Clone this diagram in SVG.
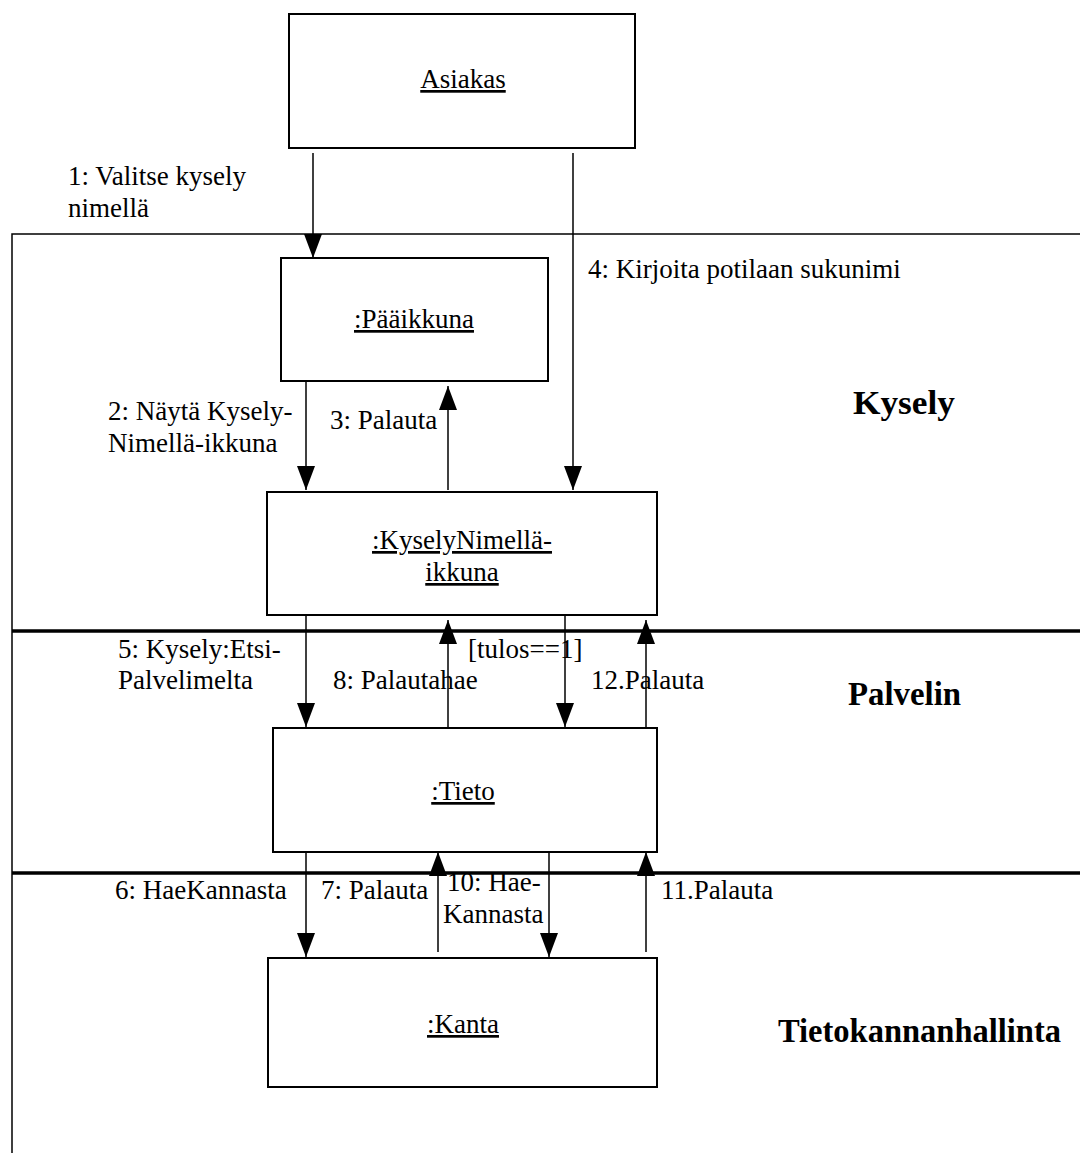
<svg xmlns="http://www.w3.org/2000/svg" width="1080" height="1153" viewBox="0 0 1080 1153">
  <defs>
    <marker id="head" markerUnits="userSpaceOnUse" markerWidth="24" markerHeight="18" refX="24" refY="9" orient="auto">
      <path d="M0,0 L24,9 L0,18 z" fill="#000"/>
    </marker>
    <style>
      text { font-family: "Liberation Serif", "Times New Roman", serif; fill: #000; }
      .lbl { font-size: 27px; }
      .name { font-size: 27px; text-anchor: middle; text-decoration: underline; }
      .lane { font-size: 33px; font-weight: bold; }
      .box { fill: #fff; stroke: #000; stroke-width: 2; }
      .msg { stroke: #000; stroke-width: 1.5; fill: none; marker-end: url(#head); }
      .frame { stroke: #000; stroke-width: 1.5; fill: none; }
      .divider { stroke: #000; stroke-width: 3.5; fill: none; }
    </style>
  </defs>
  <rect width="1080" height="1153" fill="#fff"/>

  <!-- swimlane frame and dividers -->
  <g id="lanes">
    <path class="frame" d="M12,1153 L12,234 L1080,234"/>
    <line class="divider" x1="12" y1="631" x2="1080" y2="631"/>
    <line class="divider" x1="12" y1="873" x2="1080" y2="873"/>
    <text class="lane" x="853" y="414" textLength="102" lengthAdjust="spacingAndGlyphs">Kysely</text>
    <text class="lane" x="848" y="705" textLength="113" lengthAdjust="spacingAndGlyphs">Palvelin</text>
    <text class="lane" x="778" y="1042" textLength="283" lengthAdjust="spacingAndGlyphs">Tietokannanhallinta</text>
  </g>

  <!-- message connectors -->
  <g id="connectors">
    <line class="msg" x1="313" y1="153" x2="313" y2="258"/>
    <line class="msg" x1="573" y1="153" x2="573" y2="490"/>
    <line class="msg" x1="306" y1="381" x2="306" y2="490"/>
    <line class="msg" x1="448" y1="490" x2="448" y2="386"/>
    <line class="msg" x1="306" y1="615" x2="306" y2="727"/>
    <line class="msg" x1="448" y1="727" x2="448" y2="620"/>
    <line class="msg" x1="565" y1="615" x2="565" y2="727"/>
    <line class="msg" x1="646" y1="727" x2="646" y2="620"/>
    <line class="msg" x1="306" y1="852" x2="306" y2="957"/>
    <line class="msg" x1="438" y1="952" x2="438" y2="852"/>
    <line class="msg" x1="549" y1="852" x2="549" y2="957"/>
    <line class="msg" x1="646" y1="952" x2="646" y2="852"/>

    <text class="lbl" x="68" y="185">1: Valitse kysely</text>
    <text class="lbl" x="68" y="217">nimellä</text>
    <text class="lbl" x="588" y="278">4: Kirjoita potilaan sukunimi</text>
    <text class="lbl" x="108" y="420">2: Näytä Kysely-</text>
    <text class="lbl" x="108" y="452">Nimellä-ikkuna</text>
    <text class="lbl" x="330" y="429">3: Palauta</text>
    <text class="lbl" x="118" y="658">5: Kysely:Etsi-</text>
    <text class="lbl" x="118" y="689">Palvelimelta</text>
    <text class="lbl" x="468" y="658">[tulos==1]</text>
    <text class="lbl" x="333" y="689">8: Palautahae</text>
    <text class="lbl" x="591" y="689">12.Palauta</text>
    <text class="lbl" x="115" y="899">6: HaeKannasta</text>
    <text class="lbl" x="321" y="899">7: Palauta</text>
    <text class="lbl" x="447" y="891">10: Hae-</text>
    <text class="lbl" x="443" y="923">Kannasta</text>
    <text class="lbl" x="661" y="899">11.Palauta</text>
  </g>

  <g id="asiakas">
    <rect class="box" x="289" y="14" width="346" height="134"/>
    <text class="name" x="463" y="88">Asiakas</text>
  </g>

  <g id="paaikkuna">
    <rect class="box" x="281" y="258" width="267" height="123"/>
    <text class="name" x="414" y="328">:Pääikkuna</text>
  </g>

  <g id="kyselynimella-ikkuna">
    <rect class="box" x="267" y="492" width="390" height="123"/>
    <text class="name" x="462" y="549">:KyselyNimellä-</text>
    <text class="name" x="462" y="581">ikkuna</text>
  </g>

  <g id="tieto">
    <rect class="box" x="273" y="728" width="384" height="124"/>
    <text class="name" x="463" y="800">:Tieto</text>
  </g>

  <g id="kanta">
    <rect class="box" x="268" y="958" width="389" height="129"/>
    <text class="name" x="463" y="1033">:Kanta</text>
  </g>
</svg>
